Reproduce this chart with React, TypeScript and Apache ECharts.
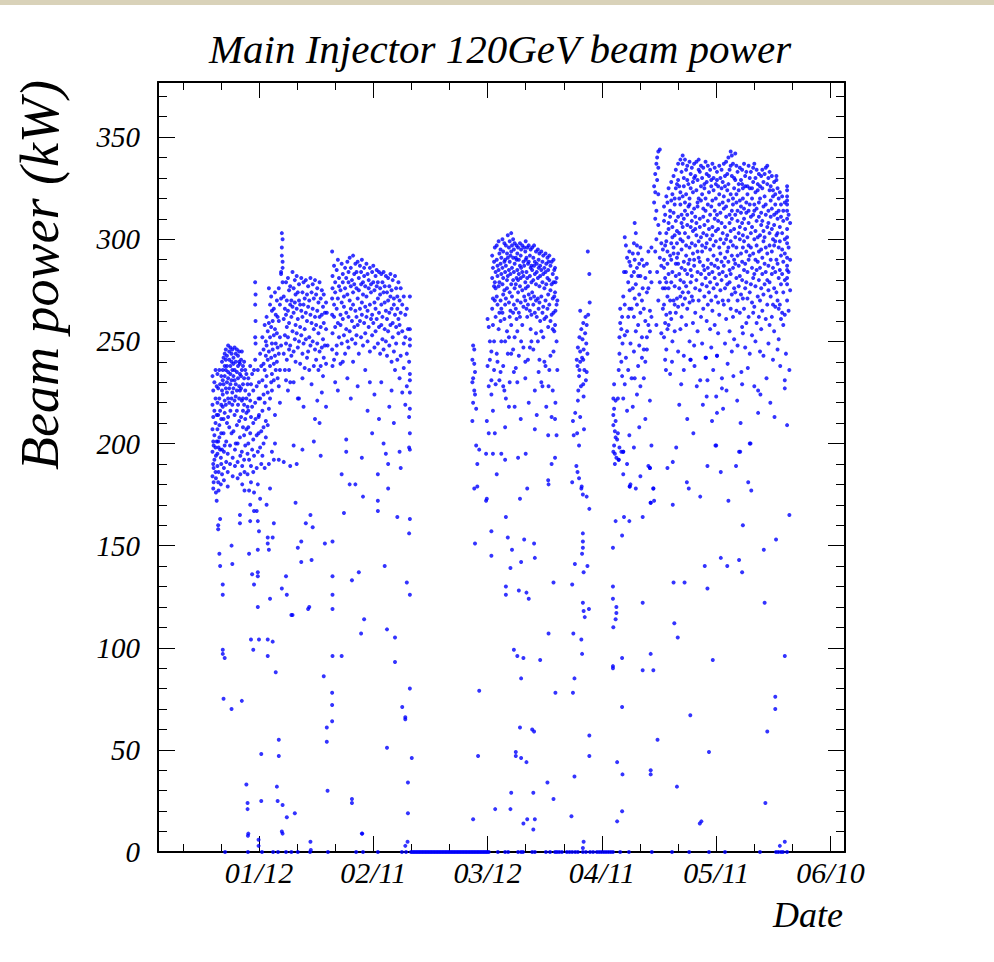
import React, { useEffect, useRef } from 'react';
import * as echarts from 'echarts';

// ---- axes (x = days after 2008-01-12) ----
const X_MIN = -26.5;
const X_MAX = 153.8;
const Y_MIN = 0;
const Y_MAX = 377;
const xMajorDays = [0, 30, 60, 90, 120, 150];
const xTickLabels = ['01/12', '02/11', '03/12', '04/11', '05/11', '06/10'];
const xMinorDays = [-20, -10, 10, 20, 40, 50, 70, 80, 100, 110, 130, 140];
const yMajor = [0, 50, 100, 150, 200, 250, 300, 350];
const yMinor = [10, 20, 30, 40, 60, 70, 80, 90, 110, 120, 130, 140, 160, 170, 180, 190, 210, 220, 230, 240, 260, 270, 280, 290, 310, 320, 330, 340, 360, 370];

// ---- data: each row = [day, value, value, ...] (beam power in kW) ----
const decCols = [
  [-12.2, 233, 219, 207, 196, 184], [-12.0, 226, 213, 201, 190, 178], [-11.9, 199, 188, 181],
  [-11.7, 230, 216, 204, 192], [-11.4, 236, 222, 210, 198, 186], [-11.3, 194, 183, 176],
  [-11.1, 228, 214, 201, 172], [-10.9, 234, 220, 207, 195, 189], [-10.7, 227, 214, 201, 181, 160, 158],
  [-10.6, 198, 186, 177], [-10.4, 236, 222, 209, 203, 146], [-10.2, 229, 216, 197, 140, 163],
  [-10.0, 193, 180], [-9.9, 233, 219, 212, 205, 190], [-9.7, 240, 226, 197, 185],
  [-9.5, 236, 231, 224, 218, 131, 126, 99, 97], [-9.3, 242, 229, 212, 205, 75], [-9.2, 196, 188, 182],
  [-9.0, 244, 238, 233, 221, 215, 199, 95], [-8.7, 246, 241, 236, 227, 219], [-8.6, 201, 191],
  [-8.4, 243, 238, 230, 225, 210], [-8.2, 195, 186, 179], [-8.1, 248, 235, 232, 222, 213],
  [-7.8, 245, 241, 227, 220, 208], [-7.6, 199, 190], [-7.5, 247, 238, 234, 229, 216],
  [-7.2, 244, 240, 231, 222, 205, 150, 70], [-7.0, 246, 236, 225, 219, 141], [-6.9, 193, 184],
  [-6.7, 242, 239, 233, 227, 206], [-6.4, 247, 236, 231, 221, 214], [-6.3, 197, 189],
  [-6.1, 244, 240, 229, 223, 200], [-5.8, 246, 235, 226, 216, 209], [-5.6, 200, 191, 183],
  [-5.5, 243, 238, 232, 219], [-5.2, 245, 240, 228, 222, 211], [-5.0, 239, 234, 226, 203, 165, 161],
  [-4.9, 194, 185], [-4.7, 241, 233, 227, 213], [-4.5, 245, 236, 221, 196, 74], [-4.4, 189, 180],
  [-4.2, 238, 229, 222, 216, 208], [-3.9, 240, 232, 219, 204, 192], [-3.8, 186, 177],
  [-3.6, 236, 226, 212, 199], [-3.3, 234, 222, 215, 207, 33], [-3.0, 229, 218, 195, 185, 24, 21],
  [-2.8, 232, 216, 208, 200, 9], [-2.6, 224, 192, 177, 146], [-2.3, 238, 221, 205, 170, 162],
  [-2.1, 229, 213, 189, 181, 104], [-1.8, 234, 218, 197, 136], [-1.5, 226, 210, 202, 186, 99],
  [-1.3, 236, 194, 176, 167, 131], [-1.0, 279, 268, 252, 241, 220], [-0.9, 273, 260, 249, 212],
  [-0.6, 228, 204, 188, 167], [-0.3, 236, 196, 180, 162, 148, 137, 135, 120], [-0.1, 222, 213, 205, 6],
];

const janCols = [
  [0.0, 157, 104, 230, 214], [0.3, 244, 222, 198, 173], [0.6, 238, 206, 190, 48, 25],
  [0.9, 252, 231, 216, 194], [1.2, 246, 239, 224, 208, 200], [1.5, 258, 236, 220, 188],
  [1.8, 250, 243, 228, 211, 203], [2.0, 262, 248, 233, 170], [2.3, 255, 241, 225, 209, 154, 151, 104, 96],
  [2.6, 276, 259, 245, 217, 190, 148], [2.9, 268, 252, 238, 222, 178, 124], [3.2, 272, 257, 242, 230],
  [3.4, 265, 249, 234, 226, 196], [3.6, 260, 246, 154, 103], [3.9, 266, 253, 239, 231, 161, 192],
  [4.2, 274, 256, 243, 214, 200], [4.4, 263, 249, 236, 88], [4.7, 270, 254, 240, 32],
  [4.9, 262, 247, 232, 25], [5.2, 276, 260, 244, 228, 192, 55, 47], [5.5, 268, 252, 236, 220],
  [5.8, 284, 283, 271, 248], [6.0, 303, 296, 292, 129], [6.2, 300, 289, 286, 279, 23, 9],
  [6.5, 272, 261, 244, 191], [6.8, 266, 253, 236], [7.1, 279, 263, 249, 231, 135],
  [7.3, 270, 257, 241, 126, 17], [7.6, 281, 265, 252, 226], [7.9, 275, 259, 246, 236],
  [8.2, 277, 268, 248, 230, 189], [8.5, 270, 262, 243, 116], [8.8, 284, 267, 255, 116],
  [9.1, 276, 264, 245, 230, 199], [9.4, 280, 269, 251, 19], [9.6, 273, 258, 240, 171],
  [9.9, 282, 266, 254, 190], [10.2, 274, 261, 247, 222, 149], [10.5, 278, 270, 250, 222],
  [10.8, 268, 257, 239], [11.1, 281, 265, 253, 152, 142], [11.4, 274, 262, 244, 232, 197],
  [11.7, 279, 268, 249, 218], [12.0, 271, 256, 237], [12.3, 280, 264, 251, 161],
  [12.6, 273, 260, 242], [12.9, 277, 267, 245, 119], [13.2, 270, 252, 236, 120],
  [13.5, 281, 263, 248, 165, 5], [13.8, 274, 259, 229, 143], [14.1, 278, 266, 250, 159],
  [14.4, 271, 256, 238, 201], [14.7, 280, 262, 246, 212], [15.0, 273, 258, 241],
  [15.3, 276, 265, 249, 221], [15.6, 269, 254, 236], [15.9, 279, 262, 245, 210],
  [16.2, 271, 257, 238, 194], [16.5, 275, 263, 247, 225], [16.8, 267, 251, 233],
  [17.0, 273, 259, 242, 86], [17.3, 264, 248, 151], [17.6, 269, 256, 239, 218],
  [17.8, 264, 61, 54], [18.0, 248, 30],
];

const febCols = [
  [19.2, 294, 271, 263, 246, 78, 72, 64], [19.3, 282, 276, 254, 238, 135, 126, 119, 96, 152],
  [19.7, 287, 268, 262, 241], [20.0, 279, 274, 257, 230], [20.4, 285, 266, 248, 244],
  [20.7, 290, 271, 259, 226], [21.0, 281, 277, 252], [21.4, 275, 263, 258, 239],
  [21.7, 288, 269, 249, 96, 185], [22.0, 283, 279, 261, 240], [22.3, 272, 267, 253, 166],
  [22.6, 286, 276, 244], [22.9, 281, 264, 256, 202, 196], [23.2, 289, 273, 250, 232],
  [23.5, 279, 284, 262, 247], [23.8, 291, 270, 255, 180], [24.1, 286, 277, 266, 222],
  [24.4, 280, 260, 251, 133, 26, 24], [24.7, 292, 274, 268, 240], [25.0, 283, 278, 257],
  [25.3, 288, 265, 249, 180], [25.6, 276, 284, 262, 253], [25.9, 289, 271, 258, 228],
  [26.2, 281, 275, 244, 137], [26.5, 287, 266, 260], [26.8, 284, 278, 252, 107],
  [27.0, 290, 269, 263, 193, 9], [27.3, 279, 273, 248, 174], [27.6, 286, 282, 259, 114],
  [27.9, 277, 267, 254, 236], [28.2, 288, 272, 262], [28.5, 283, 265, 250, 216],
  [28.8, 280, 276, 257], [29.1, 286, 268, 245, 230], [29.4, 278, 274, 261],
  [29.7, 284, 263, 253, 205], [30.0, 287, 279, 259], [30.3, 275, 269, 247, 224],
  [30.6, 282, 266, 255], [30.9, 285, 277, 261], [31.2, 279, 271, 249, 185, 172, 167],
  [31.5, 284, 264, 257, 212], [31.8, 276, 273, 244], [32.1, 283, 268, 258, 230],
  [32.4, 279, 262, 251], [32.7, 284, 274, 246, 200], [33.0, 277, 269, 256, 140],
  [33.3, 282, 265, 250, 195], [33.6, 274, 261, 243, 109, 51], [33.9, 281, 270, 255, 178, 190],
  [34.2, 277, 264, 248, 218], [34.5, 283, 272, 258], [34.8, 275, 266, 240, 226],
  [35.1, 280, 259, 252], [35.4, 271, 268, 245, 210], [35.7, 282, 263, 236, 105, 93],
  [36.0, 276, 257, 249], [36.3, 272, 266, 241, 164], [36.6, 279, 261, 254],
  [36.9, 270, 258, 232, 196], [37.2, 276, 264, 243, 188], [37.6, 268, 255, 225, 71],
  [38.0, 272, 249, 237], [38.4, 263, 252, 219, 65, 66], [38.8, 266, 244, 228, 132],
  [39.1, 256, 34, 19], [39.4, 240, 213, 198, 156],
  [39.6, 272, 256, 251, 248, 234, 231, 225, 217, 205, 197, 163, 126, 80], [40.1, 46],
];

const marCols = [
  [56.0, 241, 230, 211], [56.2, 248, 232, 220, 16], [56.5, 246, 239, 226, 178], [56.7, 235, 224, 151],
  [57.0, 217, 199], [57.3, 179, 190], [57.5, 47], [57.8, 79, 197], [59.6, 195, 172], [59.8, 211, 173],
  [60.0, 261, 238], [60.3, 257, 228, 205], [60.6, 250, 241], [61.0, 245, 231, 224, 157, 145],
  [61.2, 292, 281, 266], [61.4, 286, 271, 258, 216, 195], [61.7, 289, 277, 250, 236],
  [61.9, 296, 279, 270, 205], [62.0, 21], [62.1, 284, 276, 262, 229], [62.4, 297, 290, 272, 244, 185],
  [62.6, 287, 282, 268, 240], [62.9, 299, 285, 277, 256], [63.1, 293, 279, 264, 231],
  [63.4, 295, 288, 270, 260, 235], [63.6, 291, 283, 266, 250, 195], [63.9, 300, 286, 278, 264],
  [64.1, 294, 281, 273, 238, 228], [64.4, 298, 289, 275, 261, 226], [64.6, 290, 284, 268, 250, 208, 192],
  [64.8, 297, 287, 271, 222, 164, 130, 126], [65.1, 293, 280, 276, 255], [65.3, 302, 291, 282, 244, 154],
  [65.6, 296, 285, 269, 252, 218], [65.8, 299, 289, 274, 262, 230], [66.0, 292, 283, 265, 139, 21],
  [66.2, 303, 294, 278, 258, 244, 29], [66.4, 297, 286, 272, 148], [66.7, 300, 291, 280, 264, 246],
  [66.9, 295, 284, 268, 235, 99], [67.1, 298, 288, 276, 252, 218], [67.4, 291, 278, 266, 237, 49, 47],
  [67.6, 297, 290, 281, 261], [67.8, 293, 285, 270, 255, 230, 96], [68.0, 296, 280, 274, 193],
  [68.2, 290, 283, 264, 243, 128], [68.5, 298, 287, 277, 262, 173, 61], [68.7, 292, 281, 269, 212],
  [68.8, 295, 286, 250, 142, 85, 46], [69.1, 297, 284, 275, 258], [69.4, 289, 282, 267, 247, 95, 14],
  [69.6, 296, 287, 272, 153], [69.9, 294, 279, 270, 240, 232], [70.0, 299, 290, 276, 195],
  [70.2, 291, 284, 266, 127, 44], [70.4, 296, 281, 262, 178, 16], [70.6, 288, 277, 268, 241],
  [70.8, 297, 289, 273, 220, 124], [71.1, 292, 282, 265, 247], [71.3, 295, 286, 271, 256],
  [71.5, 287, 279, 263, 250], [71.7, 296, 285, 274, 60], [72.0, 291, 280, 268, 246, 29, 11],
  [72.2, 297, 287, 272, 151, 59], [72.4, 289, 283, 264, 226, 207, 144, 16], [72.7, 294, 278, 270, 254],
  [72.9, 288, 284, 262, 214], [73.2, 295, 281, 271, 250], [73.4, 290, 286, 266, 235],
  [73.6, 293, 277, 269, 241], [73.8, 287, 282, 260, 94], [74.1, 294, 285, 272, 255, 230],
  [74.4, 289, 279, 264, 228], [74.6, 292, 283, 267, 252], [74.9, 286, 276, 261, 240],
  [75.2, 293, 284, 270, 238], [75.4, 288, 278, 262, 218], [75.7, 291, 281, 266, 34],
  [75.9, 285, 273, 257, 204, 182], [76.0, 289, 228, 180, 107], [76.2, 292, 280, 268, 236],
  [76.5, 287, 275, 260, 243], [76.8, 289, 278, 263, 213, 190], [77.1, 283, 271, 256, 226],
  [77.3, 290, 279, 264, 245, 132, 26], [77.5, 285, 272, 255], [77.7, 286, 274, 258, 212, 193],
  [77.8, 279, 265, 220, 78], [78.1, 281, 268, 250, 204], [78.3, 270, 236],
];

const aprCols = [
  [82.0, 17.5], [82.2, 181, 131], [82.4, 211, 78], [82.5, 107], [82.6, 204], [82.8, 85, 37],
  [82.9, 141], [83.0, 215], [83.3, 189], [83.4, 241], [83.5, 205], [83.6, 238, 186],
  [83.7, 247, 221], [83.8, 226], [84.0, 233, 199, 183], [84.1, 252, 236], [84.3, 265, 245, 240, 213],
  [84.5, 228], [84.6, 256, 178, 104], [84.7, 179], [84.8, 242, 146, 97], [84.9, 251],
  [85.0, 175, 156, 152, 149, 122], [85.1, 259, 241, 229], [85.2, 246, 223, 137, 118, 5],
  [85.3, 207], [85.4, 236], [85.5, 115], [85.6, 254], [85.7, 262], [85.8, 231], [85.9, 249],
  [86.0, 174, 258, 235], [86.2, 244, 140], [86.3, 294], [86.4, 263], [86.6, 119],
  [86.7, 283, 168, 57, 47], [86.8, 269],
];

const aprMayCols = [
  [92.9, 149, 130, 124, 91, 90], [93.0, 222, 214, 209, 196, 110], [93.2, 217, 199, 229],
  [93.4, 206, 195, 190], [93.6, 221, 211, 203, 162, 114], [93.8, 193, 117, 120], [94.0, 202, 44, 15],
  [94.2, 222, 205], [94.4, 192, 236], [94.6, 252, 244, 198], [94.8, 259, 266], [95.1, 256, 240, 196],
  [95.3, 262, 233, 155, 95, 71, 20], [95.4, 249, 38], [95.6, 272, 222, 196, 185], [95.8, 284, 164],
  [96.0, 301, 268, 229, 253], [96.3, 297, 284, 242], [96.6, 291, 255, 216, 190], [96.9, 279, 262, 236],
  [97.2, 294, 289, 266, 204, 162], [97.3, 275, 179], [97.5, 287, 249, 180], [97.8, 282, 266, 232],
  [98.1, 293, 276, 218], [98.4, 298, 284, 262, 245, 198], [98.6, 308, 290, 271, 232],
  [98.9, 303, 278, 255, 178], [99.2, 297, 286, 268, 224], [99.5, 293, 282, 258, 238],
  [99.8, 288, 273, 248, 208], [100.1, 296, 282, 264, 228, 184], [100.5, 290, 270, 252, 242],
  [100.7, 276, 164, 122, 89], [101.0, 287, 266, 246, 232], [101.4, 281, 260, 240, 212],
  [101.8, 288, 274, 252, 246], [102.2, 294, 276, 258, 189], [102.6, 284, 265, 255, 221, 188],
  [102.8, 171, 97, 40, 38], [103.0, 296, 279, 262, 199], [103.5, 178, 89], [103.7, 326, 318, 172],
  [104.0, 332, 323, 310, 294], [104.3, 337, 314, 300, 258], [104.5, 340, 329, 284], [104.6, 55],
  [104.8, 343, 335, 322, 307, 270], [105.2, 344, 303, 291, 279], [105.6, 254, 298, 287],
  [106.0, 266, 276, 295],
];

const mayCols = [
  [106.3, 316, 309, 290, 286, 268, 252], [106.6, 312, 297, 281, 276, 259, 241],
  [106.9, 321, 303, 299, 279, 263, 246], [107.2, 318, 294, 288, 272, 256],
  [107.5, 325, 308, 305, 283, 276, 258], [107.9, 314, 311, 292, 270, 264],
  [108.2, 328, 319, 298, 290, 279, 261], [108.5, 322, 306, 301, 284, 250],
  [108.8, 331, 313, 296, 293, 270], [109.1, 320, 317, 302, 277, 268, 255],
  [109.4, 334, 325, 309, 288, 282, 264], [109.7, 327, 304, 298, 291, 271],
  [110.0, 337, 329, 311, 293, 288, 267, 245], [110.3, 326, 320, 303, 283, 276],
  [110.6, 339, 323, 317, 300, 280, 272, 256], [110.9, 333, 312, 308, 295, 286, 262],
  [111.2, 341, 337, 321, 306, 299, 274, 268], [111.5, 330, 326, 310, 289, 279, 243],
  [111.8, 339, 318, 314, 303, 285, 271], [112.1, 334, 322, 297, 292, 277, 258],
  [112.4, 336, 329, 312, 307, 283, 266], [112.7, 327, 316, 301, 288, 274],
  [113.0, 338, 320, 317, 296, 290, 269, 250], [113.3, 332, 325, 306, 285, 279, 241],
  [113.6, 335, 313, 309, 298, 282, 272], [113.9, 328, 323, 304, 293, 270, 259],
  [114.2, 337, 330, 315, 290, 287, 248], [114.5, 331, 311, 305, 297, 276, 264],
  [114.8, 338, 324, 308, 302, 280], [115.1, 329, 318, 316, 294, 284, 255],
  [115.4, 339, 334, 320, 299, 291, 270], [115.7, 333, 310, 306, 289, 275],
  [116.0, 336, 326, 319, 301, 283, 262], [116.3, 330, 322, 297, 294, 278, 249],
  [116.6, 335, 315, 311, 303, 287, 266], [116.9, 327, 325, 307, 285, 272],
  [117.2, 338, 320, 314, 296, 281, 242], [117.5, 332, 328, 302, 298, 277, 260],
  [117.8, 336, 317, 309, 290, 286, 268], [118.1, 331, 323, 305, 283, 274],
  [118.4, 334, 312, 300, 295, 279, 256], [118.7, 329, 326, 316, 288, 270, 247],
  [119.0, 337, 319, 306, 302, 284, 265], [119.3, 330, 324, 297, 292, 276],
  [119.6, 335, 314, 310, 287, 281, 258], [119.9, 327, 320, 304, 299, 272],
  [120.2, 333, 329, 312, 290, 278, 243], [120.5, 326, 309, 305, 286, 269, 254],
  [120.8, 336, 322, 317, 296, 283, 263], [121.1, 330, 313, 300, 293, 275],
  [121.4, 334, 325, 308, 289, 280], [121.7, 328, 318, 303, 284, 270],
  [122.0, 337, 321, 315, 298, 287, 268], [122.3, 331, 326, 306, 291, 276, 249],
  [122.6, 338, 316, 311, 300, 282, 261], [122.9, 332, 324, 302, 294, 278],
  [123.2, 340, 327, 319, 296, 289, 270], [123.5, 334, 312, 308, 285, 279, 255],
  [123.8, 343, 336, 322, 304, 299, 283, 266], [124.1, 341, 331, 314, 310, 292, 273, 245],
  [124.4, 337, 320, 317, 297, 286, 262], [124.7, 330, 325, 305, 290, 276, 251],
  [125.0, 342, 329, 312, 301, 288, 274], [125.3, 336, 322, 318, 296, 281, 265],
  [125.6, 333, 314, 309, 292, 270, 248], [125.9, 327, 324, 303, 287, 277],
  [126.2, 335, 319, 306, 300, 282, 264], [126.5, 329, 316, 313, 293, 273],
  [126.8, 334, 327, 308, 289, 280, 257], [127.0, 325, 320, 302, 296, 271, 254],
  [127.3, 337, 315, 310, 299, 285, 266], [127.6, 331, 326, 305, 288, 276, 247],
  [127.9, 333, 318, 313, 294, 279, 259], [128.2, 326, 322, 301, 284, 271],
  [128.5, 336, 314, 308, 297, 290, 262], [128.8, 330, 325, 317, 292, 274, 244],
  [129.1, 333, 311, 303, 296, 278], [129.4, 325, 320, 306, 286, 269, 253],
  [129.7, 335, 328, 312, 293, 281, 264], [130.0, 337, 317, 314, 300, 283, 267],
  [130.3, 330, 323, 304, 290, 277, 250], [130.6, 334, 315, 309, 297, 285, 259],
  [130.9, 327, 324, 301, 289, 272], [131.2, 332, 318, 311, 294, 280, 262],
  [131.5, 326, 320, 302, 286, 270, 245], [131.8, 331, 313, 307, 295, 276, 256],
  [132.1, 334, 325, 309, 291, 283, 265], [132.4, 328, 316, 304, 299, 273, 243],
  [132.7, 332, 321, 301, 288, 278], [133.0, 335, 317, 312, 296, 284, 261],
  [133.4, 336, 327, 306, 293, 280, 268], [133.7, 330, 314, 308, 287, 275, 249],
  [134.0, 333, 324, 303, 297, 279, 258], [134.3, 326, 319, 311, 290, 272],
  [134.6, 331, 315, 305, 294, 283, 262], [134.9, 324, 321, 300, 286, 268, 241],
  [135.2, 328, 312, 307, 297, 276, 255], [135.5, 322, 317, 299, 284, 267],
  [135.8, 331, 329, 313, 302, 290, 274], [136.1, 325, 310, 303, 288, 270, 246],
  [136.4, 320, 314, 296, 281, 266, 251], [136.7, 323, 306, 299, 285, 268],
  [137.0, 317, 311, 292, 278, 261], [137.3, 321, 303, 295, 283, 264],
  [137.6, 314, 309, 289, 274, 258], [138.0, 318, 300, 293, 280, 263],
  [138.6, 326, 324, 321, 319, 317, 314, 310, 305, 301, 298, 291, 287, 285, 281, 278, 270],
  [139.0, 312, 296, 284, 265], [139.4, 308, 290, 275],
];

const mayMid = [
  [108.4, 240], [107.9, 234], [111.5, 236], [113.2, 241], [115.8, 231], [117.7, 231], [114.9, 228],
  [117.3, 242], [120.2, 243], [121.5, 232], [121.5, 227], [123.0, 239], [120.0, 223], [117.5, 223],
  [120.2, 215], [121.8, 217], [125.5, 221], [126.8, 229], [126.6, 235], [130.0, 228], [131.0, 215],
  [131.0, 226], [131.6, 224], [134.2, 220], [135.3, 213], [138.0, 231], [138.0, 227], [138.3, 244],
  [139.2, 236], [138.6, 209], [126.4, 210], [129.0, 200], [126.0, 196], [120.0, 199], [109.5, 198],
  [112.4, 212], [110.3, 219], [108.6, 191], [107.2, 188], [106.8, 236], [110.8, 229], [114.3, 238],
  [116.5, 219], [118.9, 211], [122.7, 226], [124.5, 233], [128.3, 237], [133.2, 232], [136.8, 238],
  [114.0, 205], [119.2, 236],
];

const mayLow = [
  [108.6, 170], [112.3, 181], [112.8, 178], [108.8, 132], [111.7, 132], [109.0, 112], [109.9, 105],
  [113.2, 67], [109.7, 32], [115.8, 174], [117.7, 189], [119.8, 199], [117.0, 140], [117.7, 129],
  [119.1, 94], [118.1, 49], [116.1, 15], [121.2, 186], [123.2, 172], [125.2, 189], [126.3, 196],
  [128.8, 200], [128.4, 181], [129.2, 177], [127.0, 160], [121.2, 144], [122.9, 140], [126.0, 143],
  [126.8, 137], [132.5, 148], [132.7, 122], [135.7, 153], [139.2, 165], [138.0, 96], [135.5, 76],
  [135.5, 70], [133.4, 59], [132.9, 24], [138.0, 5], [94.4, 192], [95.6, 196], [97.3, 179],
  [102.6, 188], [103.5, 178], [102.8, 171],
];

const zeroDays = [
  -8.9, -2.9, 0.8, 3.7, 5.0, 7.1, 8.5, 10.2, 13.4, 18.1, 25.5, 27.3, 31.2, 37.5, 38.6,
  39.9, 40.3, 40.7, 41.1, 41.5, 41.9, 42.3, 42.7, 43.1, 43.5, 43.9, 44.3, 44.7, 45.1, 45.5, 45.9,
  46.3, 46.7, 47.1, 47.5, 47.9, 48.3, 48.7, 49.1, 49.5, 49.9, 50.3, 50.7, 51.1, 51.5, 51.9, 52.3,
  52.7, 53.1, 53.5, 53.9, 54.3, 54.7, 55.1, 55.5, 55.9, 56.3, 56.7, 57.1, 57.5, 57.9, 58.3, 58.7,
  59.1, 59.5, 59.9, 60.3, 62.7, 64.6, 65.4, 68.0, 68.8, 69.3, 71.7, 72.4, 75.3, 76.4, 77.7, 78.2,
  78.8, 79.5, 80.8, 81.5, 82.2, 83.0, 83.7, 85.0, 85.8, 86.9, 87.7, 88.7, 89.3, 89.9, 90.5, 91.1,
  91.7, 92.3, 92.9, 94.8, 97.1, 103.1, 108.4, 112.9, 118.1, 122.3, 131.5, 135.7, 136.3, 137.0,
  137.5, 138.6,
];

const nearZero = [
  [-2.9, 8], [-0.1, 3], [6.0, 10], [13.6, 1], [27.1, 9], [38.4, 3], [39.0, 5], [85.0, 2],
  [115.7, 14], [136.7, 3],
];

const fromCols = (cols: number[][]) => cols.flatMap((r) => r.slice(1).map((v) => [r[0], v]));

const allPoints = [
  ...fromCols(decCols),
  ...fromCols(janCols),
  ...fromCols(febCols),
  ...fromCols(marCols),
  ...fromCols(aprCols),
  ...fromCols(aprMayCols),
  ...fromCols(mayCols),
  ...mayMid,
  ...mayLow,
  ...zeroDays.map((d) => [d, 0]),
  ...nearZero,
];

const serif = "'Liberation Serif', 'DejaVu Serif', serif";
const frameLine = { color: '#000', width: 2 };
const tickLine = { color: '#000', width: 1 };

function xAx(position: 'top' | 'bottom', ticks: number[], len: number, line: boolean, labels: boolean) {
  return {
    type: 'value',
    position,
    min: X_MIN,
    max: X_MAX,
    axisLine: { show: line, onZero: false, lineStyle: frameLine },
    axisTick: { show: true, inside: true, length: len, customValues: ticks, lineStyle: tickLine },
    axisLabel: labels
      ? {
          show: true,
          customValues: xMajorDays,
          formatter: (v: number) => xTickLabels[xMajorDays.indexOf(Math.round(v))] ?? '',
          fontFamily: serif,
          fontStyle: 'italic',
          fontSize: 30,
          color: '#000',
          margin: 5,
        }
      : { show: false },
    splitLine: { show: false },
  };
}

function yAx(position: 'left' | 'right', ticks: number[], len: number, line: boolean, labels: boolean) {
  return {
    type: 'value',
    position,
    min: Y_MIN,
    max: Y_MAX,
    axisLine: { show: line, onZero: false, lineStyle: frameLine },
    axisTick: { show: true, inside: true, length: len, customValues: ticks, lineStyle: tickLine },
    axisLabel: labels
      ? {
          show: true,
          customValues: yMajor,
          fontFamily: serif,
          fontStyle: 'italic',
          fontSize: 29,
          color: '#000',
          margin: 18,
        }
      : { show: false },
    splitLine: { show: false },
  };
}

export default function App() {
  const ref = useRef<HTMLDivElement>(null);
  useEffect(() => {
    if (!ref.current) return;
    const chart = echarts.init(ref.current, null, { renderer: 'svg' });
    chart.setOption({
      animation: false,
      backgroundColor: '#ffffff',
      grid: { left: 158, right: 149, top: 82, bottom: 110 },
      xAxis: [
        xAx('bottom', xMajorDays, 16, true, true),
        xAx('bottom', xMinorDays, 8, false, false),
        xAx('top', xMajorDays, 16, true, false),
        xAx('top', xMinorDays, 8, false, false),
      ],
      yAxis: [
        yAx('left', yMajor, 17, true, true),
        yAx('left', yMinor, 9, false, false),
        yAx('right', yMajor, 17, true, false),
        yAx('right', yMinor, 9, false, false),
      ],
      series: [
        {
          type: 'scatter',
          xAxisIndex: 0,
          yAxisIndex: 0,
          data: allPoints,
          symbol: 'circle',
          symbolSize: 4,
          itemStyle: { color: '#0000ff' },
          clip: false,
          large: false,
          silent: true,
        },
      ],
      graphic: [
        { type: 'rect', shape: { x: 0, y: 0, width: 994, height: 5 }, style: { fill: '#d9d2b9' } },
        {
          type: 'text',
          x: 500,
          y: 49,
          style: {
            text: 'Main Injector 120GeV beam power',
            font: `italic 41px ${serif}`,
            fill: '#000',
            textAlign: 'center',
            textVerticalAlign: 'middle',
          },
        },
        {
          type: 'text',
          x: 40,
          y: 275,
          rotation: Math.PI / 2,
          style: {
            text: 'Beam power (kW)',
            font: `italic 54px ${serif}`,
            fill: '#000',
            textAlign: 'center',
            textVerticalAlign: 'middle',
          },
        },
        {
          type: 'text',
          x: 843,
          y: 915,
          style: {
            text: 'Date',
            font: `italic 36px ${serif}`,
            fill: '#000',
            textAlign: 'right',
            textVerticalAlign: 'middle',
          },
        },
      ],
    });
    return () => chart.dispose();
  }, []);
  return (
    <div
      ref={ref}
      style={{ position: 'absolute', left: 0, top: 0, width: 994, height: 962, background: '#fff' }}
    />
  );
}
